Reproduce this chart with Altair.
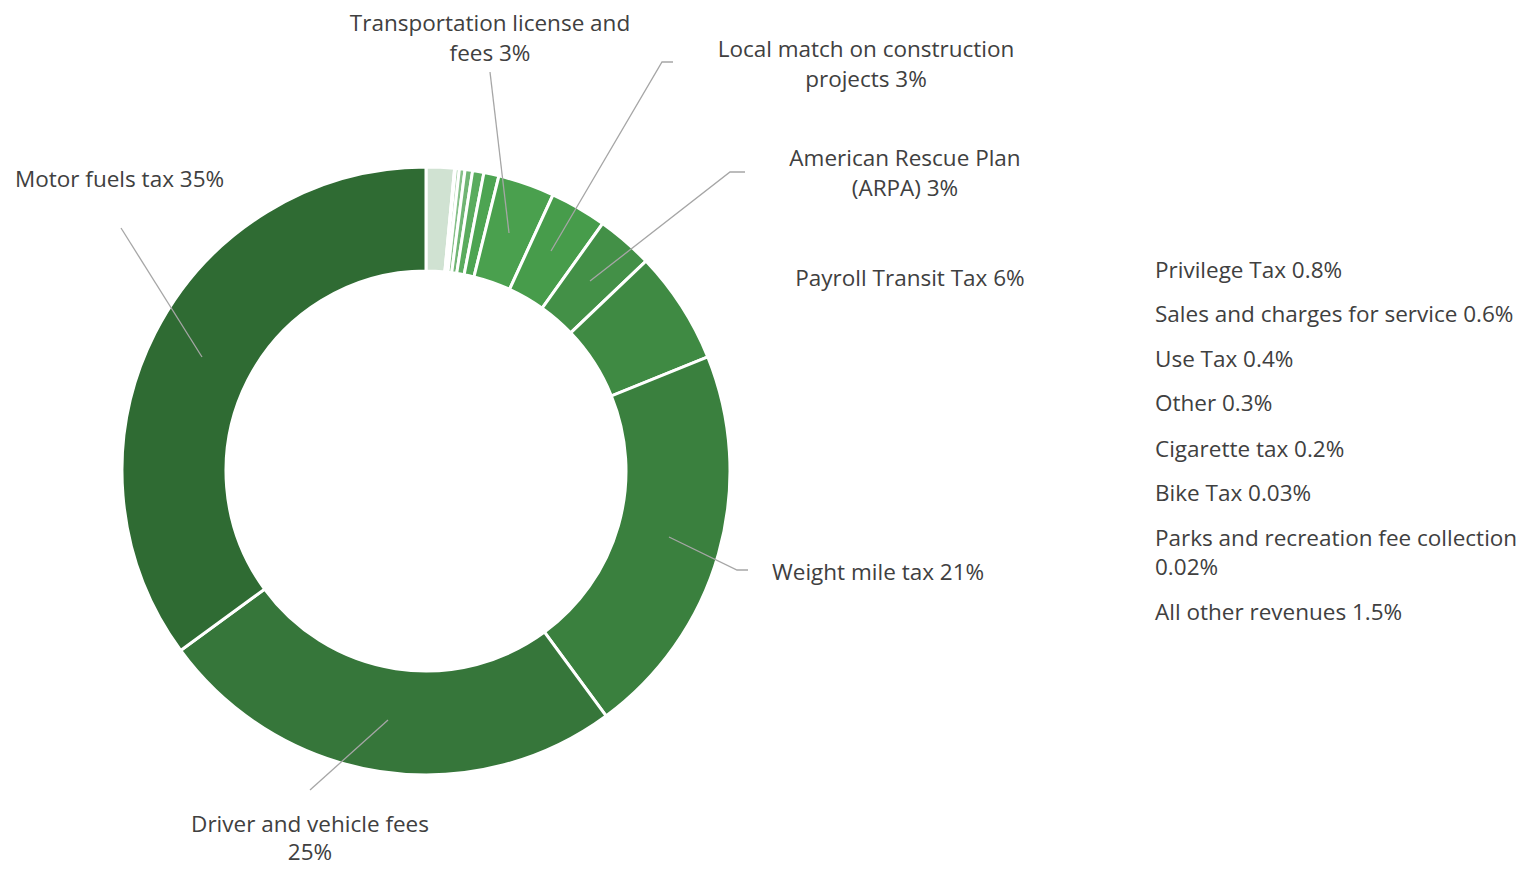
import altair as alt
import pandas as pd

# ---- data (clockwise from 12 o'clock) ----
categories = [
    "All other revenues", "Parks and recreation fee collection", "Bike Tax",
    "Cigarette tax", "Other", "Use Tax", "Sales and charges for service",
    "Privilege Tax", "Transportation license and fees",
    "Local match on construction projects", "American Rescue Plan (ARPA)",
    "Payroll Transit Tax", "Weight mile tax", "Driver and vehicle fees",
    "Motor fuels tax",
]
shares = [1.5, 0.02, 0.03, 0.2, 0.3, 0.4, 0.6, 0.8, 3, 3, 3, 6, 21, 25, 35]
colors = ["#d0e2d2", "#c4dcc6", "#b2d4b4", "#9ccb9e", "#86c089", "#70b574",
          "#5aab5e", "#4da452", "#4aa04e", "#479c4b", "#439047", "#3f8a43",
          "#3a803e", "#36763a", "#2f6b33"]

# label texts (lines)
label_lines = [
    ["Transportation license and", "fees 3%"],
    ["Local match on construction", "projects 3%"],
    ["American Rescue Plan", "(ARPA) 3%"],
    ["Payroll Transit Tax 6%"],
    ["Weight mile tax 21%"],
    ["Driver and vehicle fees", "25%"],
    ["Motor fuels tax 35%"],
]
list_lines = [
    ["Privilege Tax 0.8%"],
    ["Sales and charges for service 0.6%"],
    ["Use Tax 0.4%"],
    ["Other 0.3%"],
    ["Cigarette tax 0.2%"],
    ["Bike Tax 0.03%"],
    ["Parks and recreation fee collection", "0.02%"],
    ["All other revenues 1.5%"],
]

# ---- layout (page pixel coordinates) ----
OFF = 8
CX, CY = 426, 471
R_OUT, R_IN = 304, 200
label_pos = [  # x, first-line y, align, line height
    (490, 24, "center", 30), (866, 50, "center", 30), (905, 159, "center", 30),
    (910, 279, "center", 30), (772, 573, "left", 30), (310, 825, "center", 28),
    (15, 180, "left", 30),
]
list_x = 1155
list_y = [271, 315, 360, 404, 450, 494, 539, 613]
leaders = [
    [(121, 228), (202, 357)],
    [(310, 790), (388, 720)],
    [(748, 570), (737, 570), (669, 537)],
    [(490, 72), (509, 233)],
    [(673, 62), (662, 62), (551, 251)],
    [(745, 172), (730, 172), (590, 281)],
]

FONT = "Open Sans"
FS = 22.5
TXT = "#404040"

pie_df = pd.DataFrame({"cat": categories, "share": shares,
                       "order": list(range(len(categories)))})

donut = alt.Chart(pie_df).mark_arc(
    radius=R_OUT, radius2=R_IN, stroke="white", strokeWidth=3
).encode(
    theta=alt.Theta("share:Q", stack=True),
    order=alt.Order("order:Q"),
    color=alt.Color("cat:N", scale=alt.Scale(domain=categories, range=colors),
                    legend=None),
    x=alt.value(CX - OFF), y=alt.value(CY - OFF),
)

rows = []
for lines, (x, y, al, lh) in zip(label_lines, label_pos):
    for i, t in enumerate(lines):
        rows.append({"t": t, "x": x - OFF, "y": y + i * lh - OFF, "al": al})
for lines, y in zip(list_lines, list_y):
    for i, t in enumerate(lines):
        rows.append({"t": t, "x": list_x - OFF, "y": y + i * 29 - OFF, "al": "left"})
txt_df = pd.DataFrame(rows)

def text_layer(al):
    return alt.Chart(txt_df[txt_df.al == al]).mark_text(
        align=al, baseline="middle", font=FONT, fontSize=FS, color=TXT
    ).encode(
        x=alt.X("x:Q", scale=None, axis=None),
        y=alt.Y("y:Q", scale=None, axis=None),
        text="t:N",
    )

lrows = []
for gi, pts in enumerate(leaders):
    for k, (x, y) in enumerate(pts):
        lrows.append({"g": gi, "k": k, "x": x - OFF, "y": y - OFF})
lead_df = pd.DataFrame(lrows)
lead = alt.Chart(lead_df).mark_line(color="#a6a6a6", strokeWidth=1.3).encode(
    x=alt.X("x:Q", scale=None, axis=None),
    y=alt.Y("y:Q", scale=None, axis=None),
    detail="g:N", order="k:Q",
)

chart = alt.layer(donut, lead, text_layer("center"), text_layer("left")).properties(
    width=1508, height=862, padding=0, autosize=alt.AutoSizeParams(type="none")
).configure_view(stroke=None)

chart.save("out.html", embed_options={"renderer": "svg", "actions": False})
